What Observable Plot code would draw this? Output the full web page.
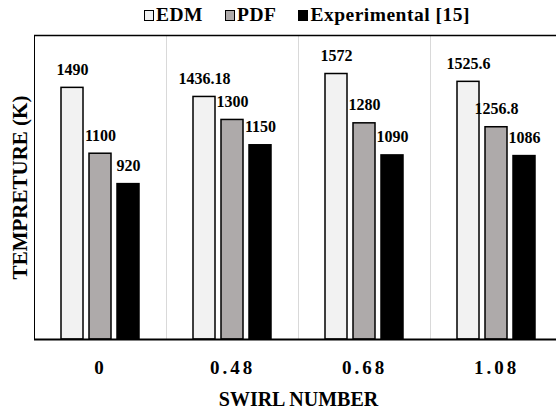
<!DOCTYPE html>
<html><head><meta charset="utf-8">
<script src="https://cdn.jsdelivr.net/npm/d3@7"></script>
<script src="https://cdn.jsdelivr.net/npm/@observablehq/plot@0.6"></script>
<style>
body{margin:0;background:#fff;overflow:hidden;width:556px;height:415px}
#legend{height:29px;width:556px;box-sizing:border-box;padding-left:58px;padding-top:1px;display:flex;justify-content:center;align-items:center;font:bold 19.5px "Liberation Serif",serif;letter-spacing:0.5px;color:#000}
#legend .item{display:flex;align-items:center;margin:0 11px}
#legend .sw{width:10px;height:11px;border:1.5px solid #000;box-sizing:border-box;margin-right:2px}
#chart svg{display:block;overflow:hidden}
#chart [aria-label="fx-axis tick label"] text{letter-spacing:3px}
#chart [aria-label="y-axis label"] text{font-size:21px}
#chart [aria-label="fx-axis label"] text{font-size:20px}
</style></head>
<body>
<div id="legend"></div>
<div id="chart"></div>
<script>
const groups = ["0", "0.48", "0.68", "1.08"];
const seriesNames = ["EDM", "PDF", "Experimental [15]"];
const seriesColors = ["#f2f2f2", "#aeaaaa", "#000000"];
const edmValues = [1490, 1436.18, 1572, 1525.6];
const pdfValues = [1100, 1300, 1280, 1256.8];
const expValues = [920, 1150, 1090, 1086];
const yDomain = [0, 1800];

const allValues = [edmValues, pdfValues, expValues];
const data = groups.flatMap((g, i) =>
  seriesNames.map((s, j) => ({swirl: g, series: s, value: allValues[j][i]}))
);

// legend
const legend = document.getElementById("legend");
seriesNames.forEach((s, j) => {
  const it = document.createElement("div");
  it.className = "item";
  const sw = document.createElement("span");
  sw.className = "sw";
  sw.style.background = seriesColors[j];
  const t = document.createElement("span");
  t.textContent = s;
  it.appendChild(sw); it.appendChild(t);
  legend.appendChild(it);
});

const plot = Plot.plot({
  width: 556,
  height: 386,
  marginTop: 6,
  marginBottom: 76,
  marginLeft: 33,
  marginRight: -7,
  style: {fontFamily: "'Liberation Serif', serif", fontWeight: "bold", fontSize: "19px", background: "#fff", color: "#000"},
  facet: {data, x: "swirl"},
  fx: {domain: groups, padding: 0, label: "SWIRL NUMBER", labelAnchor: "center", tickSize: 0, tickPadding: 21, labelOffset: 66},
  x: {domain: seriesNames, axis: null, paddingInner: 0.228, paddingOuter: 0.94},
  y: {domain: yDomain, ticks: [], tickSize: 0, label: "TEMPRETURE (K)", labelArrow: "none", labelAnchor: "center", labelOffset: 22, line: true},
  color: {domain: seriesNames, range: seriesColors},
  marks: [
    Plot.frame({anchor: "right", stroke: "#d9d9d9", strokeWidth: 1}),
    Plot.barY(data, {x: "series", y: "value", fill: "series", stroke: "#000", strokeWidth: 1.5}),
    Plot.text(data, {x: "series", y: "value", text: d => String(d.value), lineAnchor: "bottom", dy: -13, fontSize: 16, fontWeight: "bold"}),
    Plot.ruleY([yDomain[0]], {stroke: "#000", strokeWidth: 2}),
    Plot.ruleY([yDomain[1]], {stroke: "#000", strokeWidth: 1.5})
  ]
});
document.getElementById("chart").appendChild(plot);
</script>
</body></html>
